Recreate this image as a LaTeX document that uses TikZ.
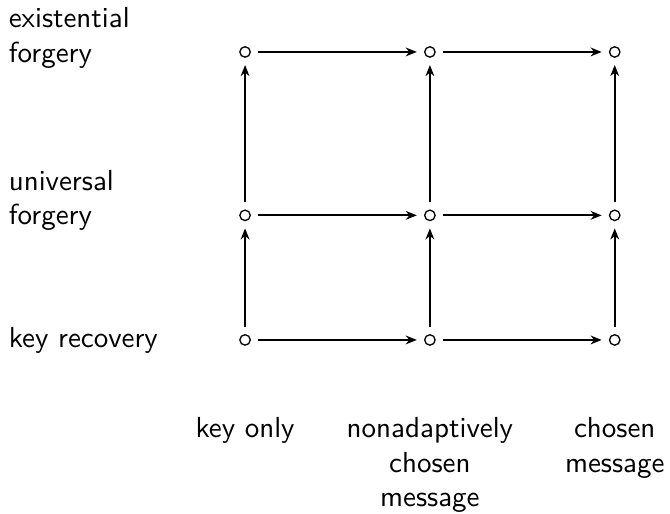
\documentclass[tikz,border=0pt]{standalone}
\usepackage{tikz}
\usetikzlibrary{arrows.meta,positioning}
\tikzset{
  pt/.style={draw, circle, line width=0.45pt, inner sep=0pt, minimum size=3.6pt,
    outer sep=2.7pt},
  lvl/.style={font=\sffamily, align=left, inner sep=0pt, anchor=west},
  atk/.style={font=\sffamily, align=center, inner sep=0pt, anchor=north},
  imp/.style={-{Stealth[length=3.8pt, width=3pt, inset=1.2pt]}, line width=0.7pt},
}
\begin{document}
\begin{tikzpicture}
    \useasboundingbox (0,0) rectangle (8.12,6.22);
    % --- grid points, explicit coordinates ---
    \node[pt] (ke) at (2.97,5.59) {};
    \node[pt] (ne) at (5.21,5.59) {};
    \node[pt] (ce) at (7.45,5.59) {};
    \node[pt] (ku) at (2.97,3.61) {};
    \node[pt] (nu) at (5.21,3.61) {};
    \node[pt] (cu) at (7.45,3.61) {};
    \node[pt] (kr) at (2.97,2.10) {};
    \node[pt] (nr) at (5.21,2.10) {};
    \node[pt] (cr) at (7.45,2.10) {};
    % --- goals of the attacker ---
    \node[lvl] (exist) at (0.10,5.76) {existential\\forgery};
    \node[lvl] (univ)  at (0.10,3.79) {universal\\forgery};
    \node[lvl] (recov) at (0.10,2.10) {key recovery};
    % --- kinds of attack ---
    \node[atk] (keyonly) at (2.97,1.17) {key only};
    \node[atk] (nonad)   at (5.21,1.17) {nonadaptively\\chosen\\message};
    \node[atk] (chosen)  at (7.45,1.17) {chosen\\message};
    % --- stronger attack, to the right ---
    \draw[imp] (ke) -- (ne);
    \draw[imp] (ne) -- (ce);
    \draw[imp] (ku) -- (nu);
    \draw[imp] (nu) -- (cu);
    \draw[imp] (kr) -- (nr);
    \draw[imp] (nr) -- (cr);
    % --- weaker goal, upwards ---
    \draw[imp] (kr) -- (ku);
    \draw[imp] (ku) -- (ke);
    \draw[imp] (nr) -- (nu);
    \draw[imp] (nu) -- (ne);
    \draw[imp] (cr) -- (cu);
    \draw[imp] (cu) -- (ce);
\end{tikzpicture}
\end{document}
